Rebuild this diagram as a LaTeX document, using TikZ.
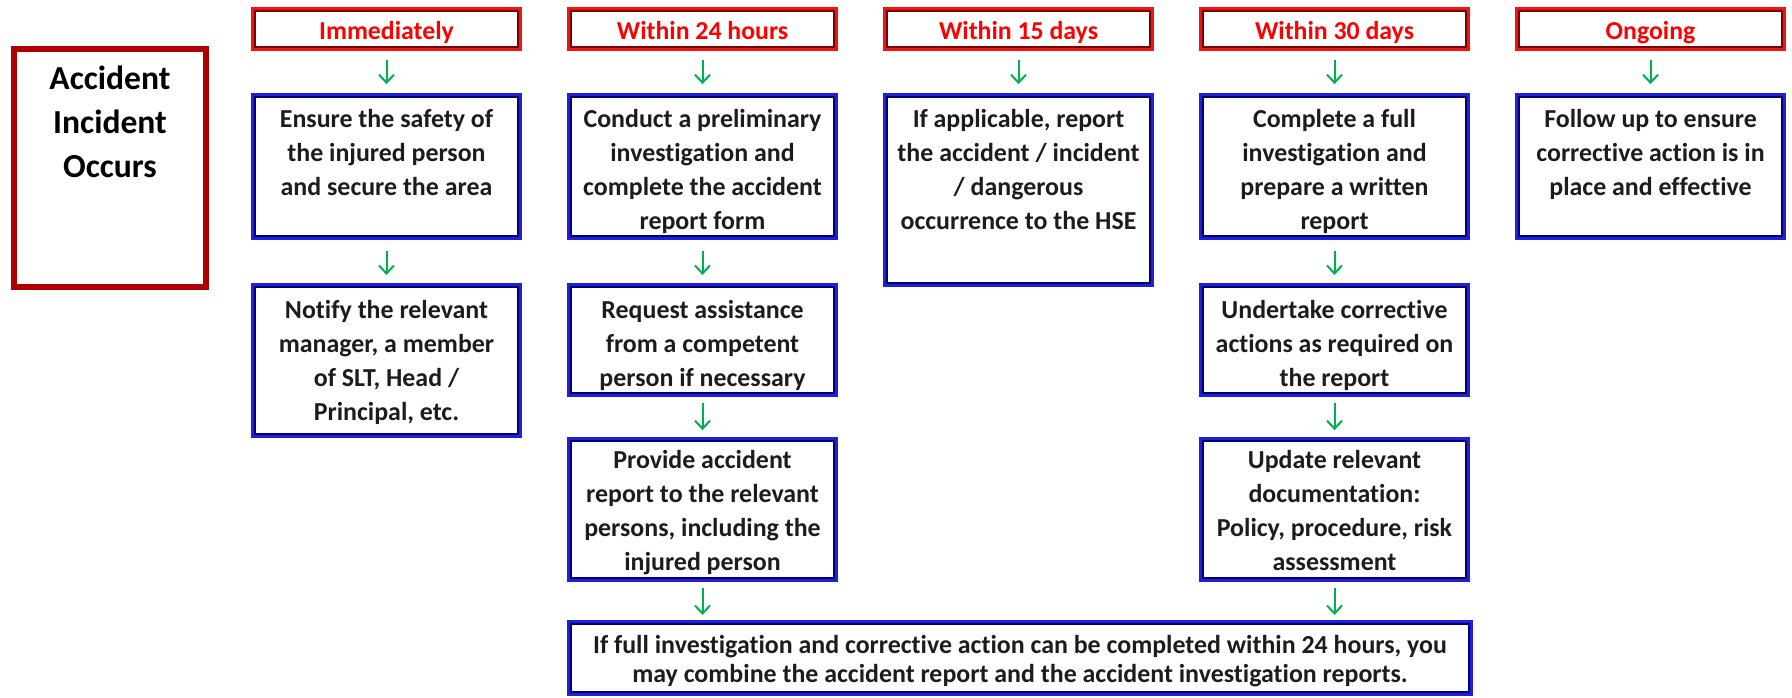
\documentclass[tikz,border=0pt]{standalone}
\usepackage{fontspec}
\setmainfont{Carlito}[Ligatures=CommonOff]
\usetikzlibrary{arrows.meta}
\definecolor{hred}{HTML}{F01515}
\definecolor{hdark}{HTML}{780000}
\definecolor{bblue}{HTML}{2020D8}
\definecolor{bdark}{HTML}{000070}
\definecolor{accred}{HTML}{AE0000}
\definecolor{arrgreen}{HTML}{00B050}
\definecolor{txt}{HTML}{1C1C1C}
\newcommand\bx[4]{\parbox[c][#1][t]{#2}{\centering\rule{0pt}{#3}#4\par}}
\begin{document}
\begin{tikzpicture}[x=0.5pt,y=-0.5pt,
  frame/.style 2 args={draw=#1, line width=1.5pt,
    path picture={\draw[draw=#2,line width=3.5pt] (path picture bounding box.south west) rectangle (path picture bounding box.north east);}},
  hdr/.style={frame={hred}{hdark}, inner sep=0pt, outer sep=0pt, anchor=north, text=red,
    font=\bfseries\fontsize{12.9pt}{15pt}\selectfont},
  blk/.style={frame={bblue}{bdark}, inner sep=0pt, outer sep=0pt, anchor=north, text=txt,
    font=\bfseries\fontsize{12.95pt}{17pt}\selectfont},
  wide/.style={frame={bblue}{bdark}, inner sep=0pt, outer sep=0pt, anchor=north, text=txt,
    font=\bfseries\fontsize{12.95pt}{14.4pt}\selectfont},
  acc/.style={draw=accred, line width=3pt, inner sep=0pt, outer sep=0pt, anchor=north, text=black,
    font=\bfseries\fontsize{16.8pt}{22.2pt}\selectfont},
  arr/.style={draw=arrgreen, line width=1pt, -{Straight Barb[length=4pt,width=7.5pt]},
    shorten <=5.2pt, shorten >=5.2pt}
]
\useasboundingbox (0,0) rectangle (1792,697);

% start box
\node[acc] (acc) at (110,49) {\bx{119pt}{96pt}{20pt}{Accident\\Incident\\Occurs}};

% headers
\node[hdr] (h1) at (386.5,8.5)  {\bx{20.5pt}{134pt}{15.3pt}{Immediately}};
\node[hdr] (h2) at (702.5,8.5)  {\bx{20.5pt}{134pt}{15.3pt}{Within 24 hours}};
\node[hdr] (h3) at (1018.5,8.5) {\bx{20.5pt}{134pt}{15.3pt}{Within 15 days}};
\node[hdr] (h4) at (1334.5,8.5) {\bx{20.5pt}{134pt}{15.3pt}{Within 30 days}};
\node[hdr] (h5) at (1650.5,8.5) {\bx{20.5pt}{134pt}{15.3pt}{Ongoing}};

% row 1
\node[blk] (ens) at (386.5,94.5) {\bx{72pt}{134pt}{16.6pt}{Ensure the safety of\\the injured person\\and secure the area}};
\node[blk] (con) at (702.5,94.5) {\bx{72pt}{134pt}{16.6pt}{Conduct a preliminary\\investigation and\\complete the accident\\report form}};
\node[blk] (hse) at (1018.5,94.5) {\bx{95.5pt}{134pt}{16.6pt}{If applicable, report\\the accident / incident\\/ dangerous\\occurrence to the HSE}};
\node[blk] (ful) at (1334.5,94.5) {\bx{72pt}{134pt}{16.6pt}{Complete a full\\investigation and\\prepare a written\\report}};
\node[blk] (fol) at (1650.5,94.5) {\bx{72pt}{134pt}{16.6pt}{Follow up to ensure\\corrective action is in\\place and effective}};

% row 2
\node[blk] (not) at (386.5,284.5) {\bx{76pt}{134pt}{17pt}{Notify the relevant\\manager, a member\\of SLT, Head /\\Principal, etc.}};
\node[blk] (req) at (702.5,284.5) {\bx{55.5pt}{134pt}{17pt}{Request assistance\\from a competent\\person if necessary}};
\node[blk] (und) at (1334.5,284.5) {\bx{55.5pt}{134pt}{17pt}{Undertake corrective\\actions as required on\\the report}};

% row 3
\node[blk] (pro) at (702.5,438.5) {\bx{71pt}{134pt}{15pt}{Provide accident\\report to the relevant\\persons, including the\\injured person}};
\node[blk] (upd) at (1334.5,438.5) {\bx{71pt}{134pt}{15pt}{Update relevant\\documentation:\\Policy, procedure, risk\\assessment}};

% bottom
\node[wide] (bot) at (1020,621.5) {\bx{36.5pt}{451.5pt}{16pt}{If full investigation and corrective action can be completed within 24 hours, you\\may combine the accident report and the accident investigation reports.}};

% arrows
\draw[arr] (h1) -- (ens);
\draw[arr] (h2) -- (con);
\draw[arr] (h3) -- (hse);
\draw[arr] (h4) -- (ful);
\draw[arr] (h5) -- (fol);
\draw[arr, shorten <=6.2pt, shorten >=4.8pt] (ens) -- (not);
\draw[arr, shorten <=6.2pt, shorten >=4.8pt] (con) -- (req);
\draw[arr, shorten <=6.2pt, shorten >=4.8pt] (ful) -- (und);
\draw[arr, shorten <=3.8pt, shorten >=4.2pt] (req) -- (pro);
\draw[arr, shorten <=3.8pt, shorten >=4.2pt] (und) -- (upd);
\draw[arr, shorten <=3.8pt, shorten >=3.3pt] (pro.south) -- (pro.south |- bot.north);
\draw[arr, shorten <=3.8pt, shorten >=3.3pt] (upd.south) -- (upd.south |- bot.north);
\end{tikzpicture}
\end{document}
